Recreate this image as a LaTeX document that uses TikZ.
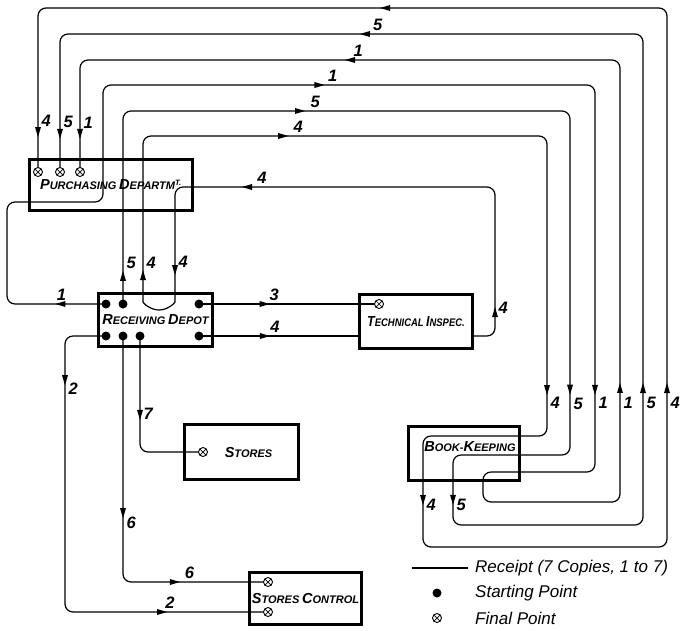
\documentclass[tikz,border=0pt]{standalone}
\usepackage{fontspec}
\setmainfont{Liberation Sans}
\usepackage{tikz}
\usetikzlibrary{
    arrows.meta,
    positioning
}
\newcommand{\capword}[2]{{\fontsize{14.5}{14}\selectfont #1}{\fontsize{11}{12}\selectfont #2}}
\newcommand{\arrtip}{\tikz\fill[sharp corners] (3.5pt,0pt) -- (-6.5pt,3pt) -- (-6.5pt,-3pt) -- cycle;}

\begin{document}
\begin{tikzpicture}[
    x=1pt,
    y=-1pt,
    dept/.style={draw, line width=2.8pt, inner sep=0pt, font=\bfseries\itshape},
    startpt/.style={circle, fill, minimum size=9pt, inner sep=0pt},
    endpt/.style={
        circle, draw, fill=white, line width=0.9pt,
        minimum size=9pt, inner sep=0pt,
        path picture={
            \draw[line width=0.7pt]
                (path picture bounding box.north west) -- (path picture bounding box.south east)
                (path picture bounding box.south west) -- (path picture bounding box.north east);
        }
    },
    route/.style={line width=1.2pt, rounded corners=8pt},
    tipnode/.style={sloped, allow upside down, inner sep=0pt, outer sep=0pt},
    lbl/.style={font=\fontsize{16.5}{16}\selectfont\bfseries\itshape, inner sep=3pt},
    legtext/.style={font=\fontsize{17}{17}\selectfont\itshape, inner sep=0pt}
]

\useasboundingbox (0,0) rectangle (682,630);

\node[
    dept,
    minimum width=163pt,
    minimum height=51pt
] (pd) at (111,185) {\capword{P}{URCHASING} \capword{D}{EPARTM\textsuperscript{T.}}};

\node[
    dept,
    minimum width=114.5pt,
    minimum height=53.5pt
] (rd) at (155.5,320) {\capword{R}{ECEIVING} \capword{D}{EPOT}};

\node[
    dept,
    minimum width=113.5pt,
    minimum height=54.5pt
] (ti) at (416,321.5) {\scalebox{0.86}[1]{\capword{T}{ECHNICAL} \capword{I}{NSPEC.}}};

\node[
    dept,
    minimum width=114.5pt,
    minimum height=55.5pt
] (st) at (241.5,452) {\hspace{14pt}\capword{S}{TORES}};

\node[
    dept,
    minimum width=112.5pt,
    minimum height=52.5pt
] (sc) at (305.5,598.5) {\capword{S}{TORES} \capword{C}{ONTROL}};

\node[
    dept,
    minimum width=111.5pt,
    minimum height=54.5pt
] (bk) at (464,453.5) {};
\node[font=\bfseries\itshape, inner sep=0pt] (bk-text) at (470,447) {\capword{B}{OOK-}\capword{K}{EEPING}};

\node[startpt] (rd-1) at (106,304) {};
\node[startpt] (rd-2) at (123,304) {};
\node[startpt] (rd-3) at (199,304) {};
\node[startpt] (rd-4) at (199,336) {};
\node[startpt] (rd-5) at (106,336) {};
\node[startpt] (rd-6) at (123,336) {};
\node[startpt] (rd-7) at (140,336) {};

\node[endpt] (pd-1) at (38,172) {};
\node[endpt] (pd-2) at (60,172) {};
\node[endpt] (pd-3) at (80,172) {};
\node[endpt] (ti-f) at (379,304) {};
\node[endpt] (st-f) at (203,452) {};
\node[endpt] (sc-1) at (268,582) {};
\node[endpt] (sc-2) at (268,612) {};

% copy 1
\draw[route] (rd-1.center)
    -- node[tipnode, pos=.46] {\arrtip} node[lbl, above, pos=.45] {1} (7,304)
    -- (7,202) -- (103,202)
    -- (103,85)
    -- node[tipnode, pos=.44] {\arrtip} node[lbl, above, pos=.467] {1} (595,85)
    -- node[tipnode, pos=.788] {\arrtip} node[lbl, right, pos=.82] {1} (595,472)
    -- (483,472) -- (483,502) -- (620,502)
    -- node[tipnode, pos=.258] {\arrtip} node[lbl, right, pos=.224] {1} (620,60)
    -- node[tipnode, pos=.5] {\arrtip} node[lbl, above, pos=.485] {1} (80,60)
    -- node[tipnode, pos=.69] {\arrtip} node[lbl, right, pos=.59] {1} (pd-3);

% copy 5
\draw[route] (rd-2.center)
    -- node[tipnode, pos=.146] {\arrtip} node[lbl, right, pos=.213] {5} (123,111)
    -- node[tipnode, pos=.396] {\arrtip} node[lbl, above, pos=.43] {5} (570,111)
    -- node[tipnode, pos=.81] {\arrtip} node[lbl, right, pos=.85] {5} (570,455)
    -- (453,455)
    -- node[tipnode, pos=.64] {\arrtip} node[lbl, right, pos=.71] {5} (453,525)
    -- (643,525)
    -- node[tipnode, pos=.279] {\arrtip} node[lbl, right, pos=.248] {5} (643,34)
    -- node[tipnode, pos=.477] {\arrtip} node[lbl, above, pos=.455] {5} (60,34)
    -- node[tipnode, pos=.75] {\arrtip} node[lbl, right, pos=.66] {5} (pd-2);

% copy 4
\draw[route] (rd-4.center)
    -- node[tipnode, pos=.415] {\arrtip} node[lbl, above, pos=.478] {4} (ti.west |- rd-4);
\draw[route] (ti.east |- rd-4) -- (495,336)
    -- node[tipnode, pos=.16] {\arrtip} node[lbl, right, pos=.19] {4} (495,187)
    -- node[tipnode, pos=.775] {\arrtip} node[lbl, above, pos=.728] {4} (175,187)
    -- node[tipnode, pos=.776] {\arrtip} node[lbl, right, pos=.70] {4} (175,294)
    arc[start angle=0, end angle=180, radius=16]
    -- node[tipnode, pos=.12] {\arrtip} node[lbl, right, pos=.2] {4} (143,136)
    -- node[tipnode, pos=.347] {\arrtip} node[lbl, above, pos=.384] {4} (547,136)
    -- node[tipnode, pos=.847] {\arrtip} node[lbl, right, pos=.89] {4} (547,436)
    -- (423,436)
    -- node[tipnode, pos=.577] {\arrtip} node[lbl, right, pos=.62] {4} (423,547)
    -- (667,547)
    -- node[tipnode, pos=.295] {\arrtip} node[lbl, right, pos=.267] {4} (667,8)
    -- node[tipnode, pos=.448] {\arrtip} (38,8)
    -- node[tipnode, pos=.78] {\arrtip} node[lbl, right, pos=.71] {4} (pd-1);

% copy 3
\draw[route] (rd-3.center)
    -- node[tipnode, pos=.375] {\arrtip} node[lbl, above, pos=.43] {3} (ti-f);

% copy 2
\draw[route] (rd-5.center) -- (65,336)
    -- node[tipnode, pos=.16] {\arrtip} node[lbl, right, pos=.19] {2} (65,612)
    -- node[tipnode, pos=.49] {\arrtip} node[lbl, above, pos=.53] {2} (sc-2);

% copy 6
\draw[route] (rd-6.center)
    -- node[tipnode, pos=.72] {\arrtip} node[lbl, right, pos=.76] {6} (123,582)
    -- node[tipnode, pos=.37] {\arrtip} node[lbl, above, pos=.475] {6} (sc-1);

% copy 7
\draw[route] (rd-7.center)
    -- node[tipnode, pos=.68] {\arrtip} node[lbl, right, pos=.67] {7} (140,452)
    -- (st-f);

% legend
\coordinate (lg-a) at (412,568);
\coordinate (lg-b) at (468,568);
\draw[route] (lg-a) -- (lg-b);
\node[legtext, right=7pt of lg-b] (lg-receipt) {Receipt (7 Copies, 1 to 7)};
\node[startpt] (lg-start) at (437,593) {};
\node[legtext, anchor=west] (lg-starttext) at (lg-receipt.west |- lg-start) {Starting Point};
\node[endpt] (lg-final) at (437,618) {};
\node[legtext, anchor=west] (lg-finaltext) at (lg-receipt.west |- lg-final) {Final Point};

\end{tikzpicture}
\end{document}
